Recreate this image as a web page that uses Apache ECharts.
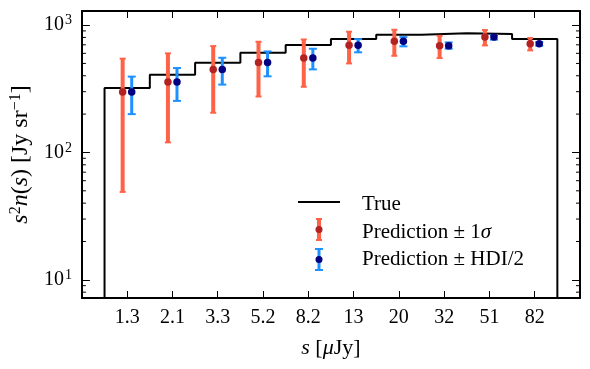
<!DOCTYPE html>
<html><head><meta charset="utf-8">
<script src="https://cdn.jsdelivr.net/npm/echarts@6/dist/echarts.min.js"></script>
<style>html,body{margin:0;padding:0;background:#fff}#c{width:590px;height:369px}</style>
</head><body><div id="c"></div>
<script>
// ---- data ----
const tickLabels = ['1.3','2.1','3.3','5.2','8.2','13','20','32','51','82'];
const trueValues = [321,408,506,607,697,776,839,861,850,776];
const predValues = [298,357,449,509,551,693,745,689,805,713];
const sigmaLow  = [49,120,205,275,328,500,574,551,693,633];
const sigmaHigh = [545,600,684,740,771,887,919,824,914,791];
const hdiLow    = [200,254,341,396,449,611,681,652,768,689];
const hdiHigh   = [394,460,554,621,652,776,805,731,835,736];
const minorTickValues = [8,9,20,30,40,50,60,70,80,90,200,300,400,500,600,700,800,900];

const FONT = "'Liberation Serif', serif";
const Y_MIN = 7.2, Y_MAX = 1290, X_MIN = -1, X_MAX = 10;
const OFF = 0.1;

// step line data
const stepData = [[-0.5, Y_MIN]];
trueValues.forEach((v, i) => stepData.push([i - 0.5, v]));
stepData.push([trueValues.length - 0.5, trueValues[trueValues.length - 1]]);
stepData.push([trueValues.length - 0.5, Y_MIN]);

const sigmaBars = predValues.map((v, i) => [i - OFF, sigmaLow[i], sigmaHigh[i]]);
const hdiBars = predValues.map((v, i) => [i + OFF, hdiLow[i], hdiHigh[i]]);
const sigmaPts = predValues.map((v, i) => [i - OFF, v]);
const hdiPts = predValues.map((v, i) => [i + OFF, v]);

function errRenderer(color, lw, capW) {
  return function (params, api) {
    const x = api.value(0), lo = api.value(1), hi = api.value(2);
    const p1 = api.coord([x, lo]), p2 = api.coord([x, hi]);
    return { type: 'group', children: [
      { type: 'line', shape: { x1: p1[0], y1: p1[1], x2: p2[0], y2: p2[1] }, style: { stroke: color, lineWidth: lw } },
      { type: 'line', shape: { x1: p1[0] - capW / 2, y1: p1[1], x2: p1[0] + capW / 2, y2: p1[1] }, style: { stroke: color, lineWidth: 2 } },
      { type: 'line', shape: { x1: p2[0] - capW / 2, y1: p2[1], x2: p2[0] + capW / 2, y2: p2[1] }, style: { stroke: color, lineWidth: 2 } }
    ]};
  };
}

function minorRenderer(params, api) {
  const v = api.value(1);
  const l = api.coord([X_MIN, v]), r = api.coord([X_MAX, v]);
  return { type: 'group', children: [
    { type: 'line', shape: { x1: l[0], y1: l[1], x2: l[0] + 4, y2: l[1] }, style: { stroke: '#000', lineWidth: 1 } },
    { type: 'line', shape: { x1: r[0], y1: r[1], x2: r[0] - 4, y2: r[1] }, style: { stroke: '#000', lineWidth: 1 } }
  ]};
}

const tickRich = {
  sup: { fontFamily: FONT, fontSize: 14, color: '#000', verticalAlign: 'top', padding: [0, 0, 9, 1] }
};
const xNameRich = {
  i: { fontFamily: FONT, fontSize: 22, fontStyle: 'italic', color: '#000' }
};
const yNameRich = {
  sup: { fontFamily: FONT, fontSize: 16, color: '#000', verticalAlign: 'top', padding: [0, 0, 10, 0] },
  i: { fontFamily: FONT, fontSize: 24, fontStyle: 'italic', color: '#000' }
};

function xLabel(v) {
  const idx = Math.round(v);
  if (Math.abs(v - idx) < 1e-6 && idx >= 0 && idx < tickLabels.length) return tickLabels[idx];
  return '';
}
function yLabel(v) {
  const e = Math.round(Math.log10(v));
  if (Math.abs(Math.log10(v) - e) < 1e-6) return '10{sup|' + e + '}';
  return '';
}

const axisLineStyle = { show: true, onZero: false, lineStyle: { color: '#000', width: 2 } };

const chart = echarts.init(document.getElementById('c'), null, { renderer: 'canvas' });
chart.setOption({
  animation: false,
  backgroundColor: '#fff',
  grid: { left: 81, right: 10, top: 11, bottom: 71 },
  xAxis: [
    { type: 'value', min: X_MIN, max: X_MAX, interval: 1, position: 'bottom',
      axisLine: axisLineStyle, splitLine: { show: false },
      axisTick: { show: true, inside: true, length: 7, lineStyle: { color: '#000', width: 1 } },
      axisLabel: { formatter: xLabel, fontFamily: FONT, fontSize: 20, color: '#000', margin: 10 },
      name: '{i|s} [{i|μ}Jy]', nameLocation: 'middle', nameGap: 39,
      nameTextStyle: { fontFamily: FONT, fontSize: 22, color: '#000', rich: xNameRich } },
    { type: 'value', min: X_MIN, max: X_MAX, interval: 1, position: 'top',
      axisLine: axisLineStyle, splitLine: { show: false },
      axisTick: { show: true, inside: true, length: 7, lineStyle: { color: '#000', width: 1 } },
      axisLabel: { show: false } }
  ],
  yAxis: [
    { type: 'log', logBase: 10, min: Y_MIN, max: Y_MAX, position: 'left',
      axisLine: axisLineStyle, splitLine: { show: false },
      axisTick: { show: true, inside: true, length: 8, lineStyle: { color: '#000', width: 1 } },
      axisLabel: { formatter: yLabel, fontFamily: FONT, fontSize: 20, color: '#000', margin: 10, rich: tickRich },
      name: '{i|s}{sup|2}{i|n}({i|s}) [Jy sr{sup|−1}]', nameLocation: 'middle', nameGap: 45,
      nameTextStyle: { fontFamily: FONT, fontSize: 24, color: '#000', rich: yNameRich } },
    { type: 'log', logBase: 10, min: Y_MIN, max: Y_MAX, position: 'right',
      axisLine: axisLineStyle, splitLine: { show: false },
      axisTick: { show: true, inside: true, length: 8, lineStyle: { color: '#000', width: 1 } },
      axisLabel: { show: false } }
  ],
  legend: {
    left: 298, top: 189, orient: 'vertical', itemWidth: 54, itemHeight: 20, itemGap: 6.5,
    selectedMode: false,
    textStyle: { fontFamily: FONT, fontSize: 21, color: '#000',
      rich: { i: { fontFamily: FONT, fontSize: 21, fontStyle: 'italic', color: '#000' } } },
    formatter: name => name.replace('σ', '{i|σ}'),
    data: [
      { name: 'True', icon: 'none' },
      { name: 'Prediction ± 1σ', icon: 'none' },
      { name: 'Prediction ± HDI/2', icon: 'none' }
    ]
  },
  graphic: [
    { type: 'line', shape: { x1: 298, y1: 202, x2: 340, y2: 202 }, style: { stroke: '#000', lineWidth: 2 } },
    { type: 'line', shape: { x1: 319, y1: 219, x2: 319, y2: 240 }, style: { stroke: '#ff6347', lineWidth: 4 } },
    { type: 'line', shape: { x1: 316, y1: 219, x2: 322, y2: 219 }, style: { stroke: '#ff6347', lineWidth: 2 } },
    { type: 'line', shape: { x1: 316, y1: 240, x2: 322, y2: 240 }, style: { stroke: '#ff6347', lineWidth: 2 } },
    { type: 'circle', shape: { cx: 319, cy: 229.5, r: 3.5 }, style: { fill: '#b22222' } },
    { type: 'line', shape: { x1: 319, y1: 249, x2: 319, y2: 270 }, style: { stroke: '#1e90ff', lineWidth: 3 } },
    { type: 'line', shape: { x1: 315, y1: 249, x2: 323, y2: 249 }, style: { stroke: '#1e90ff', lineWidth: 2 } },
    { type: 'line', shape: { x1: 315, y1: 270, x2: 323, y2: 270 }, style: { stroke: '#1e90ff', lineWidth: 2 } },
    { type: 'circle', shape: { cx: 319, cy: 259.5, r: 3.5 }, style: { fill: '#000080' } }
  ],
  series: [
    { name: 'True', type: 'line', step: 'end', data: stepData, symbol: 'none',
      lineStyle: { color: '#000', width: 2 }, itemStyle: { color: '#000' }, clip: true, z: 2 },
    { name: 'Prediction ± 1σ', type: 'custom', data: sigmaBars, encode: { x: 0, y: [1, 2] },
      renderItem: errRenderer('#ff6347', 4, 6), itemStyle: { color: '#ff6347' }, z: 3 },
    { name: 'Prediction ± 1σ', type: 'scatter', data: sigmaPts, symbol: 'circle', symbolSize: 7.5,
      itemStyle: { color: '#b22222', opacity: 1 }, z: 4 },
    { name: 'Prediction ± HDI/2', type: 'custom', data: hdiBars, encode: { x: 0, y: [1, 2] },
      renderItem: errRenderer('#1e90ff', 3, 8), itemStyle: { color: '#1e90ff' }, z: 3 },
    { name: 'Prediction ± HDI/2', type: 'scatter', data: hdiPts, symbol: 'circle', symbolSize: 7.5,
      itemStyle: { color: '#000080', opacity: 1 }, z: 4 },
    { name: 'minor', type: 'custom', data: minorTickValues.map(v => [X_MIN, v]), encode: { x: 0, y: 1 },
      renderItem: minorRenderer, silent: true, clip: false, z: 5 }
  ]
});
</script>
</body></html>
